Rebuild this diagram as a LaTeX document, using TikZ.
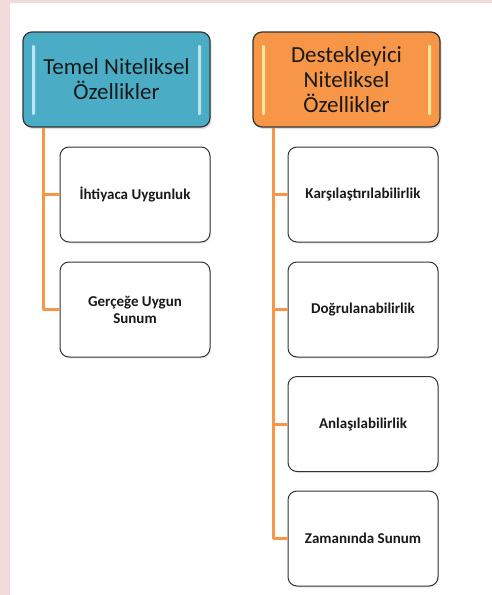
\documentclass[tikz,border=0pt]{standalone}
\usepackage{fontspec}
\setmainfont{Carlito}
\usetikzlibrary{shadows}
\definecolor{pinkbg}{HTML}{F2DCDB}
\definecolor{hblue}{HTML}{4BACC6}
\definecolor{horange}{HTML}{F79646}
\definecolor{lineor}{HTML}{F79646}
\definecolor{edge}{HTML}{333333}
\tikzset{
  header/.style={draw=edge, line width=1.2pt, rounded corners=9pt, minimum width=187pt, minimum height=95pt,
     align=center, font=\fontsize{23}{25}\selectfont, text=black!90, inner sep=0pt,
     drop shadow={shadow xshift=1.5pt, shadow yshift=-2pt, opacity=0.25}},
  child/.style={draw=edge, line width=1pt, fill=white, rounded corners=9pt, minimum width=150pt, minimum height=95pt,
     align=center, font=\fontsize{15}{17}\selectfont\bfseries, text=black!90, inner sep=0pt,
     drop shadow={shadow xshift=1pt, shadow yshift=-1.5pt, opacity=0.15}},
  conn/.style={draw=lineor, line width=3pt},
  glossb/.style={fill=cyan!15, opacity=0.8, rounded corners=1.2pt},
  glosso/.style={fill=yellow!30, opacity=0.8, rounded corners=1.2pt}
}
\begin{document}
\begin{tikzpicture}[x=1pt,y=-1pt]
\useasboundingbox (0,0) rectangle (492,595);
\fill[white] (0,0) rectangle (492,595);
\fill[pinkbg] (0,0) rectangle (10,595);
\fill[pinkbg] (0,0) rectangle (492,2.5);

\coordinate (lt) at (43,127);
\coordinate (rt) at (273,127);

\node[header, fill=hblue] (h1) at (116.5,79.5) {Temel Niteliksel\\Özellikler};
\node[header, fill=horange] (h2) at (346.5,79.5) {Destekleyici\\Niteliksel\\Özellikler};

% gloss bars
\fill[glossb] (32,45) rectangle (35,115);
\fill[glossb] (198,45) rectangle (201,115);
\fill[glosso] (262,45) rectangle (265,115);
\fill[glosso] (428,45) rectangle (431,115);

\node[child] (a1) at (135,194.5) {İhtiyaca Uygunluk};
\node[child] (a2) at (135,309.5) {Gerçeğe Uygun\\Sunum};

\node[child] (b1) at (363,194.5) {Karşılaştırılabilirlik};
\node[child] (b2) at (363,309.5) {Doğrulanabilirlik};
\node[child] (b3) at (363,424) {Anlaşılabilirlik};
\node[child] (b4) at (363,538.5) {Zamanında Sunum};

\draw[conn, line join=round] (h1.south -| lt) |- (a2.west);
\draw[conn] (lt |- a1.west) -- (a1.west);
\draw[conn, line join=round] (h2.south -| rt) |- (b4.west);
\draw[conn] (rt |- b1.west) -- (b1.west);
\draw[conn] (rt |- b2.west) -- (b2.west);
\draw[conn] (rt |- b3.west) -- (b3.west);
\end{tikzpicture}
\end{document}
